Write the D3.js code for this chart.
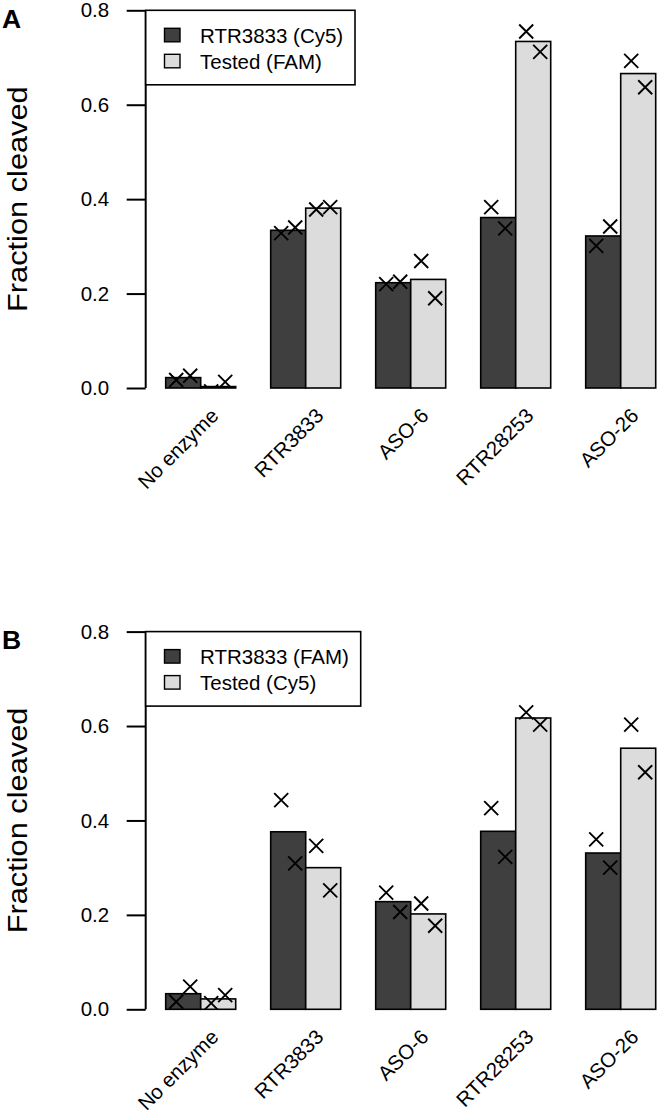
<!DOCTYPE html>
<html>
<head>
<meta charset="utf-8">
<script src="https://cdn.jsdelivr.net/npm/d3@7/dist/d3.min.js"></script>
<style>
  html, body { margin: 0; padding: 0; background: #fff; }
  svg { display: block; font-family: "Liberation Sans", Arial, Helvetica, sans-serif; }
</style>
</head>
<body>
<svg id="chart" width="660" height="1113"></svg>
<script>
// ---------- data ----------
const categories = ["No enzyme", "RTR3833", "ASO-6", "RTR28253", "ASO-26"];
const yTicks = [0.0, 0.2, 0.4, 0.6, 0.8];

// Panel A
const legendA = ["RTR3833 (Cy5)", "Tested (FAM)"];
const barsA_ref    = [0.022, 0.334, 0.223, 0.361, 0.322];
const barsA_tested = [0.003, 0.381, 0.230, 0.734, 0.666];
const repA_ref_1    = [0.017, 0.328, 0.220, 0.383, 0.301];
const repA_ref_2    = [0.026, 0.340, 0.225, 0.338, 0.342];
const repA_tested_1 = [-0.007, 0.378, 0.269, 0.755, 0.693];
const repA_tested_2 = [0.013, 0.383, 0.190, 0.712, 0.637];

// Panel B
const legendB = ["RTR3833 (FAM)", "Tested (Cy5)"];
const barsB_ref    = [0.033, 0.376, 0.228, 0.377, 0.331];
const barsB_tested = [0.022, 0.300, 0.202, 0.617, 0.553];
const repB_ref_1    = [0.016, 0.443, 0.247, 0.426, 0.360];
const repB_ref_2    = [0.048, 0.309, 0.206, 0.323, 0.300];
const repB_tested_1 = [0.013, 0.346, 0.224, 0.629, 0.603];
const repB_tested_2 = [0.030, 0.252, 0.177, 0.603, 0.502];

// ---------- drawing ----------
const svg = d3.select("#chart");
const darkFill = "#3f3f3f", lightFill = "#dcdcdc";
const FS = 20.5;

// bar layout in "units": each group = space(1) + 2 bars
const x = d3.scaleLinear().domain([0, 15]).range([130.7, 655.7]);
const y = d3.scaleLinear().domain([0, 0.8]).range([388, 10.3]);

function panel(offsetY, letter, legendLabels, legW, barsRef, barsTest, r1, r2, t1, t2, clipId) {
  const g = svg.append("g").attr("transform", `translate(0,${offsetY})`);

  svg.append("defs").append("clipPath").attr("id", clipId)
    .append("rect").attr("x", x(0)).attr("y", y(0.8) - 20)
    .attr("width", x(15) - x(0) + 5).attr("height", y(0) - y(0.8) + 20);

  // panel letter
  g.append("text").attr("x", 2).attr("y", 27.5)
    .attr("font-size", 26.5).attr("font-weight", "bold").text(letter);

  // y axis
  const axis = d3.axisLeft(y).tickValues(yTicks).tickFormat(d3.format(".1f"))
    .tickSize(19).tickPadding(17.5);
  const ax = g.append("g").attr("transform", `translate(${145.7},0)`).call(axis);
  ax.select(".domain").remove();
  ax.append("line").attr("x1", 0).attr("x2", 0).attr("y1", y(0)).attr("y2", y(0.8))
    .attr("stroke", "#000").attr("stroke-width", 2);
  ax.selectAll(".tick line").attr("stroke", "#000").attr("stroke-width", 2);
  ax.selectAll(".tick text").attr("font-size", FS).attr("fill", "#000")
    .attr("font-family", "Liberation Sans, Arial, sans-serif");

  // y label
  g.append("text")
    .attr("transform", `translate(27,${(y(0) + y(0.8)) / 2}) rotate(-90) scale(1.14,1)`)
    .attr("text-anchor", "middle").attr("font-size", 27).text("Fraction cleaved");

  // bars
  const plot = g.append("g");
  categories.forEach((c, i) => {
    const u = 1 + 3 * i;
    plot.append("rect").attr("x", x(u)).attr("y", y(barsRef[i]))
      .attr("width", x(u + 1) - x(u)).attr("height", y(0) - y(barsRef[i]))
      .attr("fill", darkFill).attr("stroke", "#000").attr("stroke-width", 1.6);
    plot.append("rect").attr("x", x(u + 1)).attr("y", y(barsTest[i]))
      .attr("width", x(u + 2) - x(u + 1)).attr("height", y(0) - y(barsTest[i]))
      .attr("fill", lightFill).attr("stroke", "#000").attr("stroke-width", 1.6);
  });

  // replicate crosses
  const pts = g.append("g").attr("clip-path", `url(#${clipId})`);
  const s = 7;
  function cross(cx, cy) {
    pts.append("path")
      .attr("d", `M${cx - s},${cy - s}L${cx + s},${cy + s}M${cx - s},${cy + s}L${cx + s},${cy - s}`)
      .attr("stroke", "#000").attr("stroke-width", 1.9).attr("fill", "none");
  }
  categories.forEach((c, i) => {
    const u = 1 + 3 * i;
    const cRef = x(u + 0.5), cTest = x(u + 1.5);
    cross(cRef - 7, y(r1[i]));
    cross(cRef + 7, y(r2[i]));
    cross(cTest - 7, y(t1[i]));
    cross(cTest + 7, y(t2[i]));
  });

  // x labels
  categories.forEach((c, i) => {
    const u = 1 + 3 * i;
    const cx = x(u + 1);
    g.append("text")
      .attr("transform", `translate(${cx + 19},${y(0) + 29}) rotate(-45)`)
      .attr("text-anchor", "end").attr("font-size", FS).text(c);
  });

  // legend
  const lg = g.append("g");
  lg.append("rect").attr("x", 145.7).attr("y", y(0.8))
    .attr("width", legW).attr("height", 74.5)
    .attr("fill", "#fff").attr("stroke", "#000").attr("stroke-width", 1.6);
  const fills = [darkFill, lightFill];
  legendLabels.forEach((lab, k) => {
    const cy = y(0.8) + 25 + k * 26;
    lg.append("rect").attr("x", 164.5).attr("y", cy - 7).attr("width", 15.5).attr("height", 13.5)
      .attr("fill", fills[k]).attr("stroke", "#000").attr("stroke-width", 1.4);
    lg.append("text").attr("x", 200).attr("y", cy).attr("dy", "0.36em")
      .attr("font-size", FS).text(lab);
  });
}

panel(0, "A", legendA, 209.3, barsA_ref, barsA_tested, repA_ref_1, repA_ref_2, repA_tested_1, repA_tested_2, "clipA");
panel(621.3, "B", legendB, 215, barsB_ref, barsB_tested, repB_ref_1, repB_ref_2, repB_tested_1, repB_tested_2, "clipB");
</script>
</body>
</html>
